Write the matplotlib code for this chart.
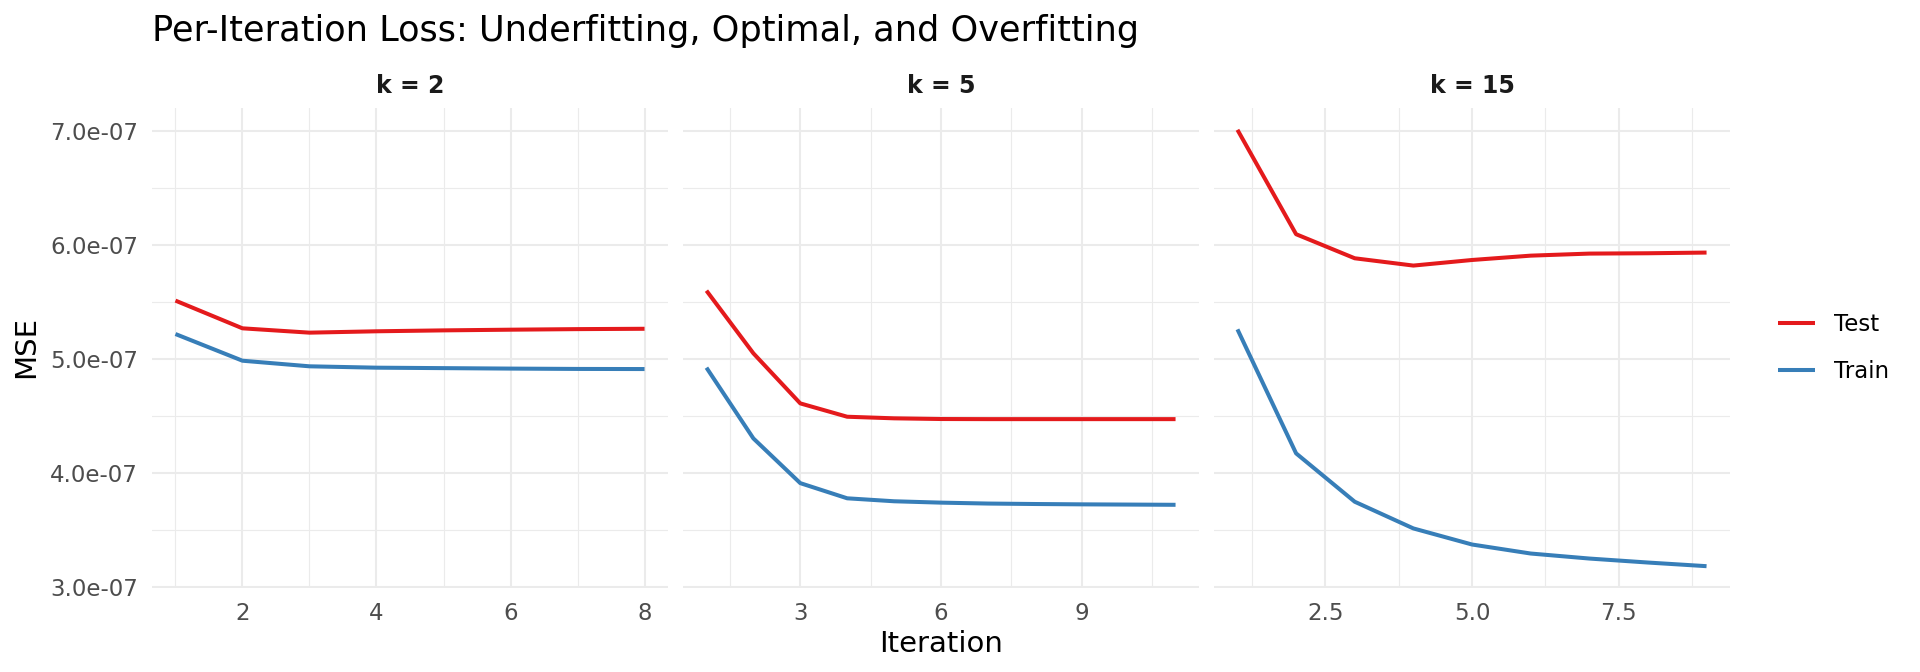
import numpy as np
import matplotlib
matplotlib.use("Agg")
import matplotlib.pyplot as plt
from matplotlib.ticker import FixedLocator

plt.rcParams['font.family'] = ['DejaVu Sans']

# per-iteration MSE (in units of 1e-07)
panels = ["k = 2", "k = 5", "k = 15"]
test_k2 = [5.512, 5.269, 5.231, 5.243, 5.251, 5.257, 5.262, 5.265]
train_k2 = [5.219, 4.985, 4.936, 4.924, 4.920, 4.916, 4.913, 4.912]
test_k5 = [5.599, 5.050, 4.611, 4.494, 4.480, 4.474, 4.473, 4.473, 4.473, 4.473, 4.473]
train_k5 = [4.924, 4.304, 3.912, 3.779, 3.753, 3.741, 3.733, 3.729, 3.726, 3.724, 3.722]
test_k15 = [7.009, 6.094, 5.883, 5.819, 5.868, 5.906, 5.924, 5.927, 5.933]
train_k15 = [5.260, 4.173, 3.749, 3.515, 3.374, 3.295, 3.251, 3.216, 3.184]

test_all = [test_k2, test_k5, test_k15]
train_all = [train_k2, train_k5, train_k15]

x_major = [[2, 4, 6, 8], [3, 6, 9], [2.5, 5.0, 7.5]]
x_minor = [[1, 3, 5, 7], [1.5, 4.5, 7.5, 10.5], [1.25, 3.75, 6.25, 8.75]]
x_labels = [["2", "4", "6", "8"], ["3", "6", "9"], ["2.5", "5.0", "7.5"]]
y_major = [3e-7, 4e-7, 5e-7, 6e-7, 7e-7]
y_minor = [3.5e-7, 4.5e-7, 5.5e-7, 6.5e-7]
y_labels = ["3.0e-07", "4.0e-07", "5.0e-07", "6.0e-07", "7.0e-07"]

red = "#E41A1C"
blue = "#377EB8"
grid_col = "#EBEBEB"

fig = plt.figure(figsize=(19.2, 6.72), dpi=100)

W, H = 1920.0, 672.0
lefts = [152, 683, 1214]
pw = 516
top_px, bot_px = 108, 588

all_vals = np.concatenate([np.array(v) for v in test_all + train_all]) * 1e-7
ymin, ymax = all_vals.min(), all_vals.max()
yr = ymax - ymin
ylim = (ymin - 0.05 * yr, ymax + 0.05 * yr)

axes = []
for i in range(3):
    ax = fig.add_axes([lefts[i] / W, 1 - bot_px / H, pw / W, (bot_px - top_px) / H])
    axes.append(ax)
    te = np.array(test_all[i]) * 1e-7
    tr = np.array(train_all[i]) * 1e-7
    it = np.arange(1, len(te) + 1)
    ax.plot(it, te, color=red, lw=2.9, label="Test", solid_capstyle="butt", zorder=3)
    ax.plot(it, tr, color=blue, lw=2.9, label="Train", solid_capstyle="butt", zorder=3)
    xr = it[-1] - it[0]
    ax.set_xlim(it[0] - 0.05 * xr, it[-1] + 0.05 * xr)
    ax.set_ylim(*ylim)

    ax.xaxis.set_major_locator(FixedLocator(x_major[i]))
    ax.xaxis.set_minor_locator(FixedLocator(x_minor[i]))
    ax.set_xticklabels(x_labels[i])
    ax.yaxis.set_major_locator(FixedLocator(y_major))
    ax.yaxis.set_minor_locator(FixedLocator(y_minor))
    if i == 0:
        ax.set_yticklabels(y_labels)
    else:
        ax.set_yticklabels([])

    ax.grid(which="major", color=grid_col, lw=1.5)
    ax.grid(which="minor", color=grid_col, lw=0.8)
    ax.set_axisbelow(True)
    for s in ax.spines.values():
        s.set_visible(False)
    ax.tick_params(which="both", length=0)
    ax.tick_params(axis="x", labelsize=16.5, labelcolor="#4D4D4D", pad=10)
    ax.tick_params(axis="y", labelsize=16.5, labelcolor="#4D4D4D", pad=10)

    # facet strip label
    ax.text(0.5, 1 + (top_px - 93) / (bot_px - top_px), panels[i], transform=ax.transAxes,
            ha="center", va="baseline", fontsize=17, fontweight="bold", color="#1A1A1A")

fig.text(152 / W, 1 - 41 / H, "Per-Iteration Loss: Underfitting, Optimal, and Overfitting",
         ha="left", va="baseline", fontsize=25.3, color="black")
fig.text(941 / W, 1 - 651.5 / H, "Iteration", ha="center", va="baseline", fontsize=21)
fig.text(26 / W, 1 - 347 / H, "MSE", ha="center", va="center", fontsize=21, rotation=90)

handles, labels = axes[0].get_legend_handles_labels()
fig.legend(handles, labels, loc="center left", bbox_to_anchor=(1778 / W, 1 - 348 / H),
           frameon=False, fontsize=16.5, handlelength=1.6, handletextpad=0.85,
           labelspacing=1.05, borderpad=0, borderaxespad=0)

fig.savefig("out.png", dpi=100, facecolor="white")
